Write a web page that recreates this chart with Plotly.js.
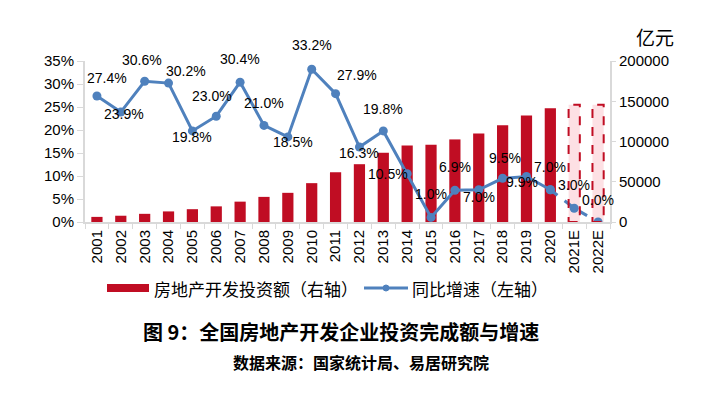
<!DOCTYPE html>
<html><head><meta charset="utf-8">
<script src="https://cdn.plot.ly/plotly-3.0.1.min.js"></script>
<style>html,body{margin:0;padding:0;background:#fff}#chart{width:717px;height:397px}</style>
</head><body><div id="chart"></div>
<script>
// ---- data ----
const years = ['2001','2002','2003','2004','2005','2006','2007','2008','2009','2010','2011','2012','2013','2014','2015','2016','2017','2018','2019','2020','2021E','2022E'];
const investment = [6344, 7791, 10154, 13158, 15909, 19423, 25289, 31203, 36242, 48259, 61797, 71804, 86013, 95036, 95979, 102581, 109799, 120264, 132194, 141443, 145686, 145686];
const growth = [27.4, 23.9, 30.6, 30.2, 19.8, 23.0, 30.4, 21.0, 18.5, 33.2, 27.9, 16.3, 19.8, 10.5, 1.0, 6.9, 7.0, 9.5, 9.9, 7.0, 3.0, 0.0];
const firstEstimate = 20;
const barName = '房地产开发投资额（右轴）';
const lineName = '同比增速（左轴）';
const unitLabel = '亿元';
const titleText = '图 9：全国房地产开发企业投资完成额与增速';
const sourceText = '数据来源：国家统计局、易居研究院';

// ---- label placement (pixel offsets: dx, dy downward) ----
const labelOffsets = [[10,-18],[3,2],[-3,-21],[17,-12],[0,6],[-4,-20],[0,-23],[0,-22],[5,5],[0,-24],[21,-19],[0,6],[0,-22],[-19,0],[0,-23],[0,-23],[0,7],[2,-20],[-4,6],[0,-23],[0,-23],[0,-22]];

const RED = '#c00d23', PINK = '#fde0e4', BLUE = '#4f81bd', AXIS = '#d9d9d9';
const L = 85, R = 610, T = 61, B = 222, W = 717, H = 397;
const px = x => (x - L) / (R - L);
const py = y => (B - y) / (B - T);
const latin = 'Liberation Sans, Arial, sans-serif';
const cjk = 'Noto Sans CJK SC, sans-serif';

const actYears = years.slice(0, firstEstimate), estYears = years.slice(firstEstimate);
const traces = [
  {type:'bar', x: actYears, y: investment.slice(0, firstEstimate), marker:{color:RED}, width:0.47, yaxis:'y', hoverinfo:'skip', showlegend:false},
  {type:'bar', x: estYears, y: investment.slice(firstEstimate), marker:{color:PINK}, width:0.47, yaxis:'y', hoverinfo:'skip', showlegend:false},
  {type:'scatter', mode:'lines+markers', x: years.slice(0, firstEstimate), y: growth.slice(0, firstEstimate), yaxis:'y2',
   line:{color:BLUE, width:3}, marker:{color:BLUE, size:9}, showlegend:false},
  {type:'scatter', mode:'lines+markers', x: years.slice(firstEstimate-1), y: growth.slice(firstEstimate-1), yaxis:'y2',
   line:{color:BLUE, width:3, dash:'dash'}, marker:{color:BLUE, size:9}, showlegend:false}
];

const shapes = [];
for (let i = firstEstimate; i < years.length; i++) {
  shapes.push({type:'rect', xref:'x', yref:'y', x0:i-0.235, x1:i+0.235, y0:0, y1:investment[i],
    line:{color:RED, width:2, dash:'dash'}, fillcolor:'rgba(0,0,0,0)', layer:'above'});
}
// legend
shapes.push({type:'rect', xref:'paper', yref:'paper', x0:px(107), x1:px(149), y0:py(292), y1:py(284), fillcolor:RED, line:{width:0}});
shapes.push({type:'line', xref:'paper', yref:'paper', x0:px(364), x1:px(408), y0:py(288), y1:py(288), line:{color:BLUE, width:3}});
shapes.push({type:'circle', xref:'paper', yref:'paper', x0:px(383), x1:px(389), y0:py(291), y1:py(285), fillcolor:BLUE, line:{color:BLUE, width:1}});

const annotations = growth.map((g, i) => ({
  x: i, y: g, xref:'x', yref:'y2', text: g.toFixed(1) + '%', showarrow:false,
  xanchor:'center', yanchor:'middle',
  xshift: labelOffsets[i][0], yshift: -labelOffsets[i][1], font:{family:latin, size:14, color:'#000'}
}));
const paperText = (x, y, text, size, xanchor) => ({xref:'paper', yref:'paper', x:px(x), y:py(y), text, showarrow:false,
  xanchor: xanchor || 'center', yanchor:'middle', font:{family:cjk, size, color:'#000'}});
annotations.push(paperText(655, 37, unitLabel, 19));
annotations.push(paperText(152, 288, barName, 17, 'left'));
annotations.push(paperText(410, 288, lineName, 17, 'left'));
annotations.push(paperText(341, 331, '<b>'+titleText+'</b>', 20));
annotations.push(paperText(361, 362, '<b>'+sourceText+'</b>', 16));

const layout = {
  width:W, height:H, margin:{l:L, r:W-R, t:T, b:H-B},
  paper_bgcolor:'#fff', plot_bgcolor:'#fff', showlegend:false, barmode:'overlay',
  xaxis:{type:'category', categoryorder:'array', categoryarray:years, range:[-0.5, years.length-0.5], autorange:false,
    tickangle:-90, tickson:'boundaries',
    ticks:'outside', ticklen:5, tickcolor:AXIS, showline:true, linecolor:AXIS, linewidth:2,
    showgrid:false, zeroline:false, tickfont:{family:latin, size:15, color:'#000'}},
  yaxis:{side:'right', range:[0,200000], dtick:50000, tickformat:'d', showline:true, linecolor:AXIS, linewidth:2,
    ticks:'outside', ticklen:4, tickcolor:AXIS, showgrid:false, zeroline:false, tickfont:{family:latin, size:15, color:'#000'}},
  yaxis2:{overlaying:'y', side:'left', range:[0,35], dtick:5, ticksuffix:'%', showline:true, linecolor:AXIS, linewidth:2,
    ticks:'outside', ticklen:6, tickcolor:AXIS, showgrid:false, zeroline:false, tickfont:{family:latin, size:15, color:'#000'}},
  shapes, annotations
};
Plotly.newPlot('chart', traces, layout, {staticPlot:true, displayModeBar:false});
</script></body></html>
